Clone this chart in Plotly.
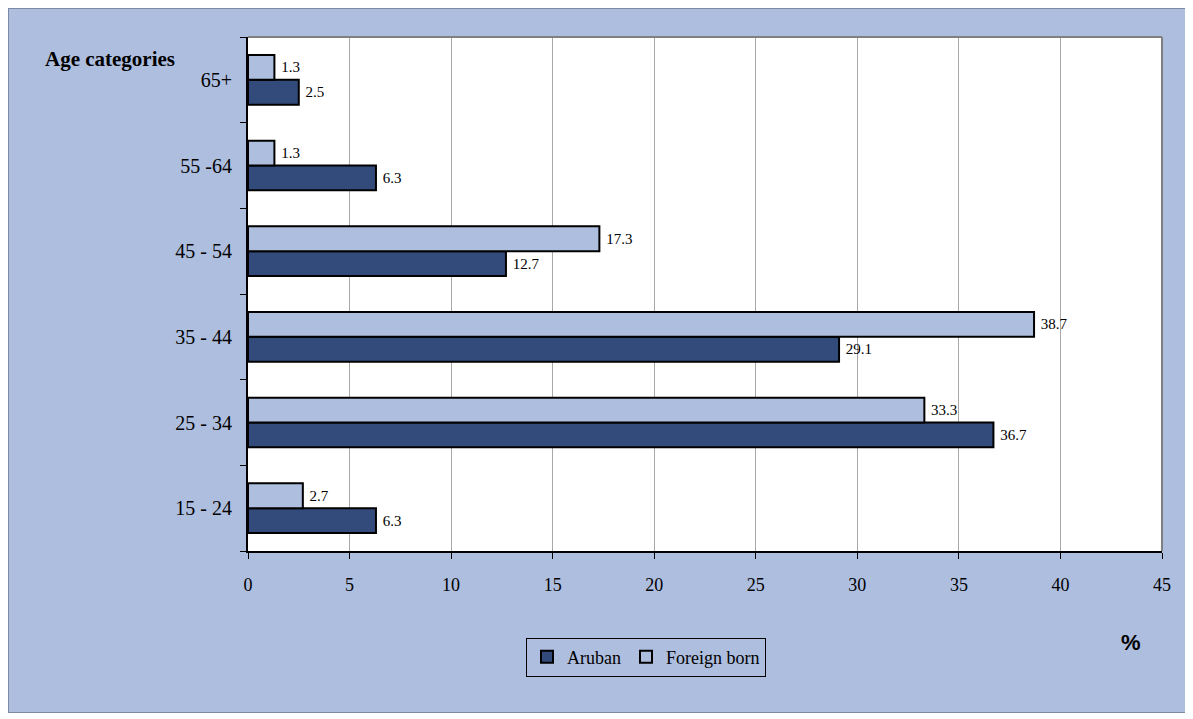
import plotly.graph_objects as go

# age groups, bottom to top
ageGroups = ["15 - 24", "25 - 34", "35 - 44", "45 - 54", "55 -64", "65+"]
arubanPct = [6.3, 36.7, 29.1, 12.7, 6.3, 2.5]
foreignPct = [2.7, 33.3, 38.7, 17.3, 1.3, 1.3]
xTicks = [0, 5, 10, 15, 20, 25, 30, 35, 40, 45]

# the page puts the figure 8px in from the corner
OFF = 8
W, H = 1179, 705
ML, MT = 248 - OFF, 37 - OFF
MR = W - (1162 - OFF)
MB = H - (551 - OFF)
plotW, plotH = W - ML - MR, H - MT - MB

def px2x(p):
    # page pixel -> paper x
    return (p - OFF - ML) / plotW

def px2y(p):
    # page pixel -> paper y
    return (H - MB - (p - OFF)) / plotH

bgBlue = "#AEBEDF"
darkBlue = "#334B7A"
serif = "Liberation Serif, Times New Roman, serif"

fig = go.Figure()
fig.add_trace(go.Bar(y=ageGroups, x=arubanPct, orientation="h", name="Aruban",
                     marker=dict(color=darkBlue, line=dict(color="black", width=2)),
                     text=[" %.1f" % v for v in arubanPct], textposition="outside",
                     outsidetextfont=dict(family=serif, size=15, color="black"),
                     cliponaxis=False))
fig.add_trace(go.Bar(y=ageGroups, x=foreignPct, orientation="h", name="Foreign born",
                     marker=dict(color=bgBlue, line=dict(color="black", width=2)),
                     text=[" %.1f" % v for v in foreignPct], textposition="outside",
                     outsidetextfont=dict(family=serif, size=15, color="black"),
                     cliponaxis=False))

fig.update_layout(
    width=W, height=H,
    margin=dict(l=ML, r=MR, t=MT, b=MB),
    paper_bgcolor=bgBlue, plot_bgcolor="white",
    barmode="group", bargap=0.42, bargroupgap=0,
    font=dict(family=serif, size=18, color="black"),
    legend=dict(orientation="h", x=px2x(646), y=px2y(657), xanchor="center", yanchor="middle",
                bgcolor=bgBlue, bordercolor="black", borderwidth=1,
                font=dict(family=serif, size=18), traceorder="normal"),
)

fig.update_xaxes(range=[0, 45], tickvals=xTicks, showgrid=True, gridcolor="#a8a8a8", gridwidth=1,
                 showline=True, linecolor="black", linewidth=2, ticks="outside", ticklen=6,
                 tickcolor="black", tickfont=dict(family=serif, size=18), ticklabelstandoff=10,
                 zeroline=False)
fig.update_yaxes(type="category", categoryorder="array", categoryarray=ageGroups,
                 showline=True, linecolor="black", linewidth=2, ticks="outside", ticklen=6,
                 tickson="boundaries", tickcolor="black", tickfont=dict(family=serif, size=20),
                 ticklabelstandoff=10, showgrid=False)

# gray frame on top/right of plot area
fig.add_shape(type="line", xref="paper", yref="paper", x0=0, x1=1, y0=1, y1=1,
              line=dict(color="#808080", width=2))
fig.add_shape(type="line", xref="paper", yref="paper", x0=1, x1=1, y0=0, y1=1,
              line=dict(color="#808080", width=2))

# chart border
fig.add_shape(type="rect", xref="paper", yref="paper", x0=px2x(OFF), x1=px2x(OFF + W),
              y0=px2y(OFF + H), y1=px2y(OFF),
              line=dict(color="#7d8aa6", width=2))

fig.add_annotation(text="<b>Age categories</b>", xref="paper", yref="paper", x=px2x(43), y=px2y(59),
                   xanchor="left", yanchor="middle", showarrow=False, font=dict(family=serif, size=21))
fig.add_annotation(text="<b>%</b>", xref="paper", yref="paper", x=px2x(1131), y=px2y(642),
                   xanchor="center", yanchor="middle", showarrow=False,
                   font=dict(family="Liberation Sans, Arial, sans-serif", size=22))

fig.write_html("out.html")
